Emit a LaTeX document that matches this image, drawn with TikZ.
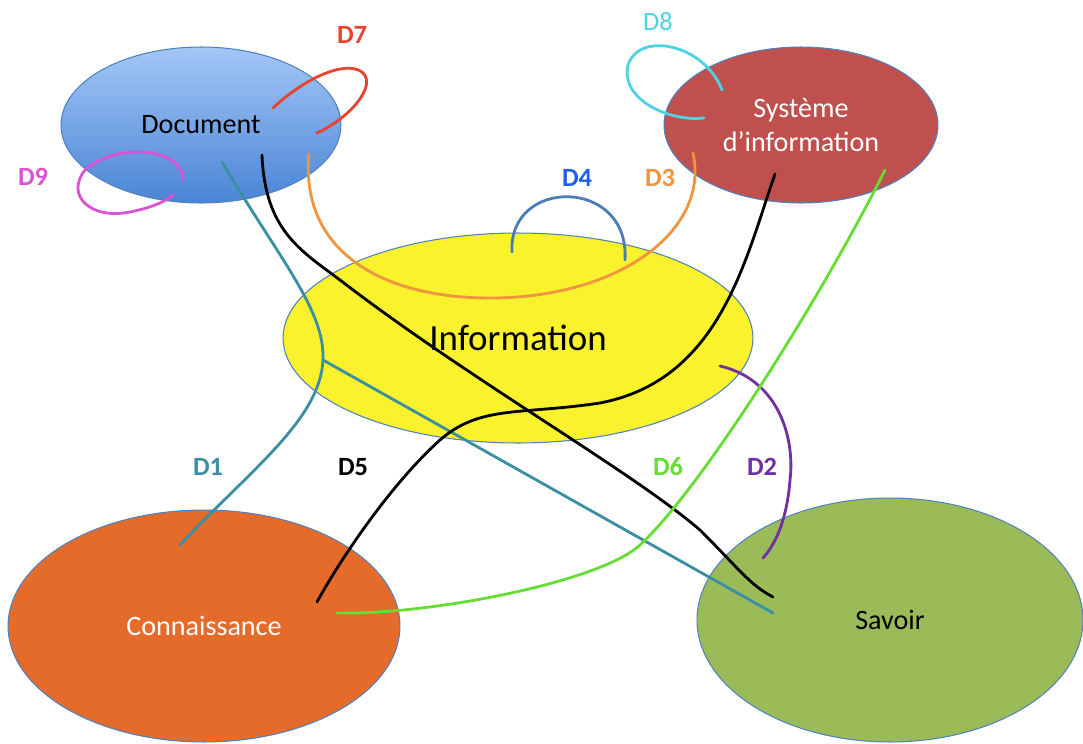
\documentclass[tikz,border=0pt]{standalone}
\usepackage{fontspec}
\setmainfont{Carlito}
\usetikzlibrary{shapes.geometric}

\definecolor{edgeblue}{HTML}{4F81BD}
\definecolor{doctop}{HTML}{A3C7F6}
\definecolor{docbottom}{HTML}{4A85D6}
\definecolor{sysred}{HTML}{C0504D}
\definecolor{infoyellow}{HTML}{FAF22C}
\definecolor{connorange}{HTML}{E46B2A}
\definecolor{savgreen}{HTML}{9BBB59}
\definecolor{cD1}{HTML}{3A8FA2}
\definecolor{cD2}{HTML}{7030A0}
\definecolor{cD3}{HTML}{F0953F}
\definecolor{cD4}{HTML}{4A7DB8}
\definecolor{tD4}{HTML}{1F5FE6}
\definecolor{cD6}{HTML}{66DD33}
\definecolor{cD7}{HTML}{E8432E}
\definecolor{cD8}{HTML}{4FD2E2}
\definecolor{cD9}{HTML}{DB52D2}

\begin{document}
\begin{tikzpicture}[x=0.02cm, y=-0.02cm,
    blob/.style={ellipse, draw=edgeblue, line width=0.6pt, inner sep=0pt,
        align=center, font=\fontsize{16}{19}\selectfont},
    link/.style={line width=1.6pt, line cap=round},
    tag/.style={font=\bfseries\fontsize{15}{17}\selectfont}]
    \useasboundingbox (0,0) rectangle (1083,744);

    % concepts
    \node[blob, top color=doctop, bottom color=docbottom,
        minimum width=5.6cm, minimum height=3.12cm] (doc) at (201,125) {Document};
    \node[blob, fill=sysred, text=white,
        minimum width=5.48cm, minimum height=3.12cm] (sys) at (801,125) {Système\\d’information};
    \node[blob, fill=infoyellow, font=\fontsize{21}{24}\selectfont,
        minimum width=9.4cm, minimum height=4.2cm] (info) at (518,338) {Information};
    \node[blob, fill=connorange, text=white,
        minimum width=7.84cm, minimum height=4.64cm] (conn) at (204,626) {Connaissance};
    \node[blob, fill=savgreen,
        minimum width=7.72cm, minimum height=4.88cm] (sav) at (890,620) {Savoir};

    % link ends
    \coordinate (d1doc) at (222,162);
    \coordinate (d1fork) at (323,360);
    \coordinate (d1conn) at (180,545);
    \coordinate (d1sav) at (773,613);
    \coordinate (d2info) at (720,366);
    \coordinate (d2sav) at (763,558);
    \coordinate (d3doc) at (309,154);
    \coordinate (d3sys) at (693,153);
    \coordinate (d4a) at (512,252);
    \coordinate (d4b) at (625,260);
    \coordinate (d5doc) at (262,155);
    \coordinate (d5sav) at (773,597);
    \coordinate (d5sys) at (775,174);
    \coordinate (d5conn) at (317,602);
    \coordinate (d6sys) at (885,170);
    \coordinate (d6conn) at (337,613);
    \coordinate (d7a) at (273,108);
    \coordinate (d7b) at (317,133);
    \coordinate (d8a) at (722,90);
    \coordinate (d8b) at (704,118);
    \coordinate (d9a) at (183,180);
    \coordinate (d9b) at (173,195);

    % links
    \draw[link, cD1] (d1doc) .. controls (280,260) and (325,310) .. (d1fork)
        .. controls (320,420) and (250,470) .. (d1conn);
    \draw[link, cD1] (d1fork) -- (d1sav);
    \draw[link, cD2] (d2info) .. controls (780,380) and (795,440) .. (790,480)
        .. controls (787,520) and (775,545) .. (d2sav);
    \draw[link, cD3] (d3doc) .. controls (300,250) and (380,298) .. (490,298)
        .. controls (620,298) and (710,230) .. (d3sys);
    \draw[link, cD4] (d4a) .. controls (508,177) and (630,177) .. (d4b);
    \draw[link, black] (d5doc) .. controls (265,230) and (300,250) .. (340,280)
        .. controls (470,380) and (630,470) .. (700,530)
        .. controls (740,570) and (750,585) .. (d5sav);
    \draw[link, black] (d5sys) .. controls (745,260) and (720,380) .. (600,403)
        .. controls (520,415) and (480,405) .. (440,440)
        .. controls (390,485) and (340,560) .. (d5conn);
    \draw[link, cD6] (d6sys) .. controls (820,300) and (700,490) .. (640,545)
        .. controls (600,582) and (430,615) .. (d6conn);
    \draw[link, cD7] (d7a) .. controls (305,78) and (345,60) .. (362,72)
        .. controls (378,85) and (350,118) .. (d7b);
    \draw[link, cD8] (d8a) .. controls (705,45) and (640,30) .. (628,65)
        .. controls (620,100) and (670,122) .. (d8b);
    \draw[link, cD9] (d9a) .. controls (185,150) and (120,140) .. (85,170)
        .. controls (65,195) and (90,220) .. (130,212)
        .. controls (150,208) and (165,202) .. (d9b);

    % labels
    \foreach \lab/\x/\y/\col in {D1/208/467/cD1, D2/762/467/cD2, D3/660/178/cD3,
        D4/577/178/tD4, D5/353/467/black, D6/668/467/cD6, D7/352/35/cD7,
        D9/33/177/cD9} {
        \node[tag, text=\col] (l\lab) at (\x,\y) {\lab};
    }
    \node[tag, font=\fontsize{15}{17}\selectfont, text=cD8] (lD8) at (658,22) {D8};
\end{tikzpicture}
\end{document}
